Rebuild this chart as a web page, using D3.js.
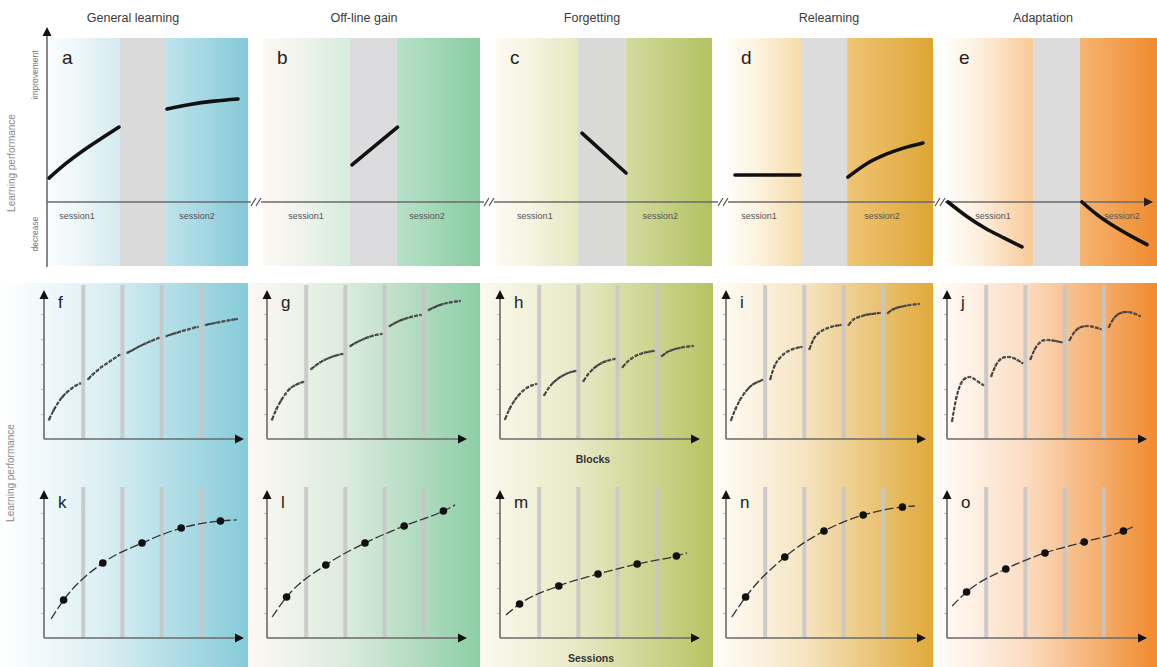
<!DOCTYPE html>
<html><head><meta charset="utf-8">
<script src="https://cdn.jsdelivr.net/npm/d3@7"></script>
<style>body{margin:0;background:#fff}svg{display:block}</style>
</head><body>
<svg id="c" width="1157" height="667"></svg>
<script>
// ---------------- DATA ----------------
const columns = ["General learning", "Off-line gain", "Forgetting", "Relearning", "Adaptation"];
const topLetters = ["a", "b", "c", "d", "e"];
const blockLetters = ["f", "g", "h", "i", "j"];
const sessionLetters = ["k", "l", "m", "n", "o"];
const sessionNames = ["session1", "session2"];
const yLabelsTop = ["improvement", "decrease"];
const yTitle = "Learning performance";
const xTitles = ["Blocks", "Sessions"];

// Schematic curves (t = time within panel 0..1, value = performance, 0 = baseline)
const curveA = [[[0.005,0.146],[0.09,0.235],[0.18,0.317],[0.27,0.39],[0.355,0.457]],
                [[0.595,0.567],[0.71,0.595],[0.83,0.615],[0.95,0.628]]];
const curveB = [[[0.41,0.226],[0.62,0.457]]];
const curveC = [[[0.398,0.42],[0.602,0.177]]];
const curveD = [[[0.039,0.165],[0.354,0.165]],
                [[0.587,0.152],[0.68,0.235],[0.77,0.29],[0.86,0.33],[0.951,0.36]]];
const curveE = [[[0.014,0],[0.1,-0.085],[0.19,-0.16],[0.28,-0.22],[0.363,-0.274]],
                [[0.646,0],[0.72,-0.08],[0.8,-0.15],[0.88,-0.21],[0.953,-0.26]]];
const topCurves = [curveA, curveB, curveC, curveD, curveE];

// Block-wise performance, 5 sessions x 8 blocks
const blocksF = [[0.13,0.19,0.24,0.28,0.31,0.335,0.355,0.37],
                 [0.40,0.43,0.455,0.48,0.50,0.52,0.54,0.56],
                 [0.575,0.59,0.607,0.622,0.636,0.649,0.661,0.673],
                 [0.687,0.697,0.706,0.715,0.724,0.732,0.74,0.747],
                 [0.76,0.767,0.773,0.779,0.785,0.79,0.795,0.80]];
const blocksG = [[0.13,0.2,0.255,0.3,0.335,0.355,0.37,0.38],
                 [0.467,0.49,0.51,0.527,0.54,0.552,0.56,0.567],
                 [0.62,0.638,0.653,0.667,0.678,0.688,0.695,0.70],
                 [0.753,0.77,0.785,0.797,0.807,0.815,0.822,0.827],
                 [0.86,0.875,0.888,0.898,0.906,0.912,0.917,0.92]];
const blocksH = [[0.133,0.2,0.25,0.29,0.32,0.342,0.357,0.367],
                 [0.293,0.34,0.375,0.4,0.42,0.435,0.446,0.453],
                 [0.387,0.43,0.462,0.487,0.505,0.518,0.527,0.533],
                 [0.48,0.513,0.537,0.555,0.567,0.576,0.582,0.587],
                 [0.553,0.575,0.59,0.6,0.607,0.613,0.617,0.62]];
const blocksI = [[0.127,0.2,0.26,0.305,0.34,0.365,0.38,0.393],
                 [0.40,0.49,0.535,0.565,0.585,0.598,0.607,0.613],
                 [0.60,0.67,0.705,0.725,0.738,0.748,0.755,0.76],
                 [0.76,0.795,0.81,0.82,0.828,0.833,0.837,0.84],
                 [0.84,0.862,0.874,0.882,0.888,0.893,0.897,0.90]];
const blocksJ = [[0.12,0.28,0.37,0.405,0.413,0.40,0.38,0.36],
                 [0.42,0.49,0.53,0.545,0.547,0.54,0.525,0.507],
                 [0.533,0.60,0.64,0.658,0.66,0.657,0.652,0.645],
                 [0.66,0.71,0.738,0.75,0.753,0.75,0.742,0.733],
                 [0.747,0.80,0.83,0.843,0.847,0.843,0.833,0.82]];
const blockData = [blocksF, blocksG, blocksH, blocksI, blocksJ];

// Session means (5 sessions) and fitted curves [session position, value]
const sessK = [0.253,0.5,0.633,0.733,0.78];
const sessL = [0.273,0.487,0.633,0.747,0.847];
const sessM = [0.227,0.347,0.427,0.493,0.547];
const sessN = [0.273,0.54,0.713,0.82,0.873];
const sessO = [0.307,0.46,0.567,0.64,0.713];
const sessData = [sessK, sessL, sessM, sessN, sessO];
const fitStart = [[0.18,0.127],[0.13,0.14],[0.15,0.153],[0.15,0.14],[0.13,0.213]];
const fitEnd = [[4.92,0.787],[4.8,0.887],[4.77,0.567],[4.82,0.88],[4.74,0.74]];

// ---------------- LAYOUT / STYLE ----------------
const svg = d3.select("#c");
const defs = svg.append("defs");
const FONT = "'Liberation Sans', Arial, sans-serif";

const topPanels = [{x:48,w:200},{x:263,w:217},{x:496,w:216},{x:727,w:206},{x:945,w:212}];
const topTop = 38, topBottom = 266;
const gapT = [[0.36,0.585],[0.40,0.617],[0.38,0.60],[0.364,0.583],[0.415,0.637]];
const topColors = [
  {s1:["#fafcfd","#d3eaf1"], gap:"#dadada", s2:["#c0e4ec","#84c9d8"]},
  {s1:["#fdf8f4","#d5ecdc"], gap:"#dcdcde", s2:["#b8e1c8","#88cca2"]},
  {s1:["#fdfaf1","#e4e8c0"], gap:"#d9d9d7", s2:["#d4dba0","#b3c260"]},
  {s1:["#fffdf7","#f5dba9"], gap:"#dcdcdc", s2:["#efc574","#dea535"]},
  {s1:["#fffdfb","#f8ca96"], gap:"#dcdcdc", s2:["#f6b471","#ef8b2f"]}
];
const lowPanels = [{x:0,w:248},{x:248,w:232},{x:480,w:233},{x:716,w:217},{x:937,w:220}];
const lowColors = [["#ffffff","#86cbd9"],["#fdf8f5","#8dcea6"],["#fcf9ef","#b7c362"],["#fffdf8","#e0a93a"],["#fffdfb","#f08a2e"]];
const lowTop = 283;
const axisX0 = [44, 267, 500, 726, 947];
const axisLen = 196;
const sessionLabelT = [[0.145,0.745],[0.198,0.756],[0.18,0.76],[0.155,0.752],[0.226,0.835]];
const titleX = [133, 364, 592, 829, 1043];

function grad(id, c0, c1, mid) {
  const g = defs.append("linearGradient").attr("id", id).attr("x1","0").attr("x2","1").attr("y1","0").attr("y2","0");
  g.append("stop").attr("offset","0").attr("stop-color", c0);
  if (mid) g.append("stop").attr("offset", mid[0]).attr("stop-color", d3.interpolateRgb(c0, c1)(mid[1]));
  g.append("stop").attr("offset","1").attr("stop-color", c1);
  return "url(#" + id + ")";
}
function arrow(g, tx, ty, dir, color) {
  const L = 9, W = 4.5;
  let p;
  if (dir === "up") p = [[tx,ty],[tx-W,ty+L],[tx+W,ty+L]];
  else p = [[tx,ty],[tx-L,ty-W],[tx-L,ty+W]];
  g.append("path").attr("d", d3.line()(p) + "Z").attr("fill", color || "#111");
}

// ---- lower backgrounds
lowPanels.forEach((p, i) => {
  svg.append("rect").attr("x", p.x).attr("y", lowTop).attr("width", p.w).attr("height", 667 - lowTop)
    .attr("fill", grad("lg" + i, lowColors[i][0], lowColors[i][1], [0.4, 0.28]));
});

// ---- top panels
const topY = d3.scaleLinear().domain([0, 1]).range([202, 38]);
topPanels.forEach((p, i) => {
  const x = d3.scaleLinear().domain([0, 1]).range([p.x, p.x + p.w]);
  const g = svg.append("g");
  const [g0, g1] = gapT[i];
  g.append("rect").attr("x", x(0)).attr("y", topTop).attr("width", x(g0) - x(0)).attr("height", topBottom - topTop)
    .attr("fill", grad("s1_" + i, topColors[i].s1[0], topColors[i].s1[1], [0.4, 0.3]));
  g.append("rect").attr("x", x(g0)).attr("y", topTop).attr("width", x(g1) - x(g0)).attr("height", topBottom - topTop)
    .attr("fill", topColors[i].gap);
  g.append("rect").attr("x", x(g1)).attr("y", topTop).attr("width", x(1) - x(g1)).attr("height", topBottom - topTop)
    .attr("fill", grad("s2_" + i, topColors[i].s2[0], topColors[i].s2[1]));
  svg.append("text").attr("x", titleX[i]).attr("y", 22).attr("text-anchor", "middle")
    .attr("font-family", FONT).attr("font-size", 12.5).attr("fill", "#3a3a3a").text(columns[i]);
  g.append("text").attr("x", p.x + 14).attr("y", 64).attr("font-family", FONT).attr("font-size", 19)
    .attr("fill", "#222").text(topLetters[i]);
  sessionNames.forEach((s, k) => {
    g.append("text").attr("x", x(sessionLabelT[i][k])).attr("y", 219).attr("text-anchor", "middle")
      .attr("font-family", FONT).attr("font-size", 9).attr("fill", "#555").text(s);
  });
});

// top x axis with breaks
const axSegs = [[47,251],[261,484],[494,718],[728,935],[945,1146]];
const topAxis = svg.append("g");
axSegs.forEach(s => topAxis.append("line").attr("x1", s[0]).attr("x2", s[1]).attr("y1", 202).attr("y2", 202)
  .attr("stroke", "#6a6a6a").attr("stroke-width", 1.6));
[256, 489, 723, 940].forEach(bx => {
  [-2.5, 2.5].forEach(o => topAxis.append("line").attr("x1", bx + o - 2.5).attr("y1", 206).attr("x2", bx + o + 2.5).attr("y2", 198)
    .attr("stroke", "#555").attr("stroke-width", 1.2));
});
arrow(topAxis, 1153, 202, "right", "#222");
topAxis.append("line").attr("x1", 47).attr("x2", 47).attr("y1", 33).attr("y2", 267).attr("stroke", "#6a6a6a").attr("stroke-width", 1.6);
arrow(topAxis, 47, 27, "up", "#111");

// top curves
topPanels.forEach((p, i) => {
  const x = d3.scaleLinear().domain([0, 1]).range([p.x, p.x + p.w]);
  const line = d3.line().x(d => x(d[0])).y(d => topY(d[1])).curve(d3.curveMonotoneX);
  topCurves[i].forEach(seg => {
    svg.append("path").attr("d", line(seg)).attr("fill", "none").attr("stroke", "#111")
      .attr("stroke-width", 3.6).attr("stroke-linecap", "round");
  });
});

function vtext(x, y, t, size, color, weight) {
  svg.append("text").attr("transform", `translate(${x},${y}) rotate(-90)`).attr("text-anchor", "middle")
    .attr("font-family", FONT).attr("font-size", size).attr("fill", color).attr("font-weight", weight || "normal").text(t);
}
vtext(15, 163, yTitle, 10, "#8a8a8a");
vtext(38, 75, yLabelsTop[0], 8.5, "#777");
vtext(38, 234, yLabelsTop[1], 8.5, "#777");
vtext(14, 473, yTitle, 10, "#8a8a8a");

// ---- lower rows
function lowerAxes(g, x0, yBase, yTopArrow, barTop, letter, xs, ys) {
  [1, 2, 3, 4].forEach(b => g.append("rect").attr("x", xs(b) - 2).attr("y", barTop).attr("width", 4)
    .attr("height", yBase - barTop).attr("fill", "#c6c6c6").attr("opacity", 0.9));
  const ax = g.append("g").attr("transform", `translate(${x0},0)`)
    .call(d3.axisLeft(ys).tickValues([1, 2, 3, 4, 5].map(k => k / 6)).tickSize(3).tickFormat(""));
  ax.select(".domain").remove();
  ax.selectAll(".tick line").attr("stroke", "#aaa").attr("stroke-width", 0.8);
  g.append("line").attr("x1", x0).attr("x2", x0).attr("y1", yBase).attr("y2", yTopArrow + 6)
    .attr("stroke", "#6a6a6a").attr("stroke-width", 1.6);
  g.append("line").attr("x1", x0).attr("x2", x0 + axisLen - 2).attr("y1", yBase).attr("y2", yBase)
    .attr("stroke", "#6a6a6a").attr("stroke-width", 1.6);
  arrow(g, x0, yTopArrow, "up", "#111");
  arrow(g, x0 + axisLen + 4, yBase, "right", "#111");
  g.append("text").attr("x", x0 + 14).attr("y", yTopArrow + 18).attr("font-family", FONT)
    .attr("font-size", 17).attr("fill", "#222").text(letter);
}

axisX0.forEach((x0, i) => {
  const xs = d3.scaleLinear().domain([0, 5]).range([x0, x0 + axisLen]);
  const yb = d3.scaleLinear().domain([0, 1]).range([439, 289]);
  const g1 = svg.append("g");
  lowerAxes(g1, x0, 439, 290, 285, blockLetters[i], xs, yb);
  blockData[i].forEach((sess, s) => {
    const pts = sess.map((v, j) => [s + 0.13 + j * (0.79 / (sess.length - 1)), v]);
    g1.append("path").attr("d", d3.line().x(d => xs(d[0])).y(d => yb(d[1])).curve(d3.curveMonotoneX)(pts))
      .attr("fill", "none").attr("stroke", "#3a3a3a").attr("stroke-width", 2).attr("stroke-dasharray", "4 1.3");
    g1.selectAll(null).data(pts).enter().append("circle").attr("cx", d => xs(d[0])).attr("cy", d => yb(d[1]))
      .attr("r", 1.3).attr("fill", "#555");
  });
  const ys = d3.scaleLinear().domain([0, 1]).range([638, 488]);
  const g2 = svg.append("g");
  lowerAxes(g2, x0, 638, 490, 487, sessionLetters[i], xs, ys);
  const dots = sessData[i].map((v, s) => [s + 0.5, v]);
  const fit = [fitStart[i]].concat(dots, [fitEnd[i]]);
  g2.append("path").attr("d", d3.line().x(d => xs(d[0])).y(d => ys(d[1])).curve(d3.curveMonotoneX)(fit))
    .attr("fill", "none").attr("stroke", "#333").attr("stroke-width", 1.3).attr("stroke-dasharray", "9 3");
  g2.selectAll(null).data(dots).enter().append("circle").attr("cx", d => xs(d[0])).attr("cy", d => ys(d[1]))
    .attr("r", 3.8).attr("fill", "#111");
});

svg.append("text").attr("x", 593).attr("y", 463).attr("text-anchor", "middle").attr("font-family", FONT)
  .attr("font-size", 10.5).attr("font-weight", "bold").attr("fill", "#333").text(xTitles[0]);
svg.append("text").attr("x", 591).attr("y", 662).attr("text-anchor", "middle").attr("font-family", FONT)
  .attr("font-size", 10.5).attr("font-weight", "bold").attr("fill", "#333").text(xTitles[1]);
</script>
</body></html>
